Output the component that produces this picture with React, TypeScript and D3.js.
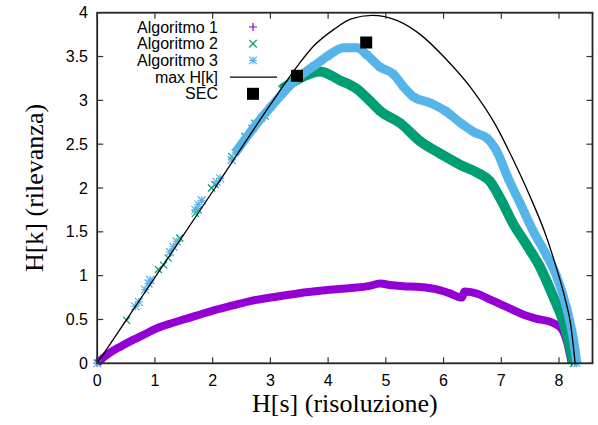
import React from "react";
import * as d3 from "d3";

const W = 598;
const H = 425;
const m = { left: 97.2, right: 5.5, top: 12.7, bottom: 61.7 };

const xTicks = [0, 1, 2, 3, 4, 5, 6, 7, 8];
const yTicks = [0, 0.5, 1, 1.5, 2, 2.5, 3, 3.5, 4];

type P = [number, number];

// Algoritmo 1 (dense band)
const algo1: P[] = [
  [0, 0], [0.1, 0.06], [0.22, 0.12], [0.4, 0.19], [0.63, 0.27], [0.85, 0.34],
  [1.0, 0.39], [1.3, 0.46], [1.55, 0.51], [1.8, 0.56], [2.05, 0.61], [2.35, 0.66],
  [2.65, 0.71], [2.9, 0.74], [3.1, 0.76], [3.5, 0.8], [3.9, 0.83], [4.4, 0.86],
  [4.7, 0.88], [4.9, 0.91], [5.1, 0.89], [5.3, 0.88], [5.6, 0.87], [5.9, 0.84],
  [6.1, 0.8], [6.32, 0.75], [6.36, 0.82], [6.6, 0.79], [6.8, 0.73], [7.0, 0.67],
  [7.2, 0.61], [7.4, 0.55], [7.6, 0.51], [7.9, 0.46], [8.05, 0.39], [8.14, 0.24],
  [8.22, 0],
];

// Algoritmo 2: scattered points along the diagonal, then a dense band
const algo2Sparse: P[] = [
  [0.51, 0.49], [1.06, 1.07], [1.15, 1.12], [1.23, 1.2], [1.43, 1.43], [1.7, 1.71],
  [1.75, 1.75], [1.98, 2.0], [2.04, 2.04], [2.33, 2.36], [2.56, 2.59], [2.68, 2.68],
  [2.73, 2.74], [2.85, 2.8], [2.91, 2.82],
];
const algo2Band: P[] = [
  [3.2, 3.13], [3.5, 3.25], [3.86, 3.33], [4.2, 3.23], [4.5, 3.13], [4.73, 2.99],
  [4.9, 2.88], [5.25, 2.74], [5.6, 2.53], [5.95, 2.39], [6.3, 2.26], [6.6, 2.17],
  [6.8, 2.08], [7.0, 1.86], [7.2, 1.6], [7.44, 1.35], [7.67, 1.1], [7.9, 0.76],
  [8.08, 0.46], [8.19, 0.19], [8.25, 0],
];

// Algoritmo 3
const algo3Sparse: P[] = [
  [0, 0], [0.66, 0.65], [0.72, 0.7], [0.83, 0.84], [0.89, 0.91], [0.92, 0.95],
  [1.26, 1.27], [1.32, 1.33], [1.38, 1.39], [1.7, 1.75], [1.75, 1.81], [1.81, 1.86],
  [2.07, 2.07], [2.13, 2.11], [2.33, 2.32],
];
const algo3Band: P[] = [
  [2.39, 2.4], [2.7, 2.68], [3.0, 2.92], [3.2, 3.07], [3.5, 3.27], [3.75, 3.39],
  [3.98, 3.5], [4.27, 3.6], [4.5, 3.6], [4.67, 3.52], [4.9, 3.38], [5.13, 3.3],
  [5.3, 3.16], [5.48, 3.04], [5.77, 2.97], [6.03, 2.88], [6.3, 2.74], [6.55, 2.63],
  [6.75, 2.57], [6.92, 2.42], [7.12, 2.11], [7.33, 1.82], [7.56, 1.5], [7.77, 1.25],
  [7.96, 0.99], [8.14, 0.61], [8.25, 0.27], [8.31, 0],
];

// max H[k]
const maxHk: P[] = [
  [0, 0], [1, 0.98], [2, 1.96], [3, 2.95], [3.5, 3.42], [3.75, 3.62], [4.1, 3.81],
  [4.4, 3.93], [4.76, 3.97], [5.2, 3.91], [5.6, 3.75], [6.0, 3.5], [6.5, 3.12],
  [6.9, 2.72], [7.2, 2.33], [7.5, 1.9], [7.75, 1.5], [7.95, 1.1], [8.1, 0.75],
  [8.2, 0.45], [8.28, 0],
];

// SEC
const sec: P[] = [[3.46, 3.28], [4.66, 3.66]];

const C1 = "#9400d3";
const C2 = "#009e73";
const C3 = "#56b4e9";

const x = d3.scaleLinear().domain([0, 8.58]).range([m.left, W - m.right]);
const y = d3.scaleLinear().domain([0, 4]).range([H - m.bottom, m.top]);

const line = d3
  .line<P>()
  .x((d) => x(d[0]))
  .y((d) => y(d[1]))
  .curve(d3.curveMonotoneX);

const sans = "'Liberation Sans', Arial, sans-serif";
const serif = "'Liberation Serif', 'Times New Roman', serif";

const Plus = ({ cx, cy, s, c }: { cx: number; cy: number; s: number; c: string }) => (
  <path d={`M${cx - s} ${cy}H${cx + s}M${cx} ${cy - s}V${cy + s}`} stroke={c} strokeWidth={1.2} />
);
const Cross = ({ cx, cy, s, c }: { cx: number; cy: number; s: number; c: string }) => (
  <path
    d={`M${cx - s} ${cy - s}L${cx + s} ${cy + s}M${cx - s} ${cy + s}L${cx + s} ${cy - s}`}
    stroke={c}
    strokeWidth={1.2}
  />
);
const Star = ({ cx, cy, s, c }: { cx: number; cy: number; s: number; c: string }) => (
  <path
    d={`M${cx - s} ${cy}H${cx + s}M${cx} ${cy - s}V${cy + s}M${cx - s} ${cy - s}L${cx + s} ${cy + s}M${cx - s} ${cy + s}L${cx + s} ${cy - s}`}
    stroke={c}
    strokeWidth={1.2}
  />
);

export default function App() {
  const x0 = m.left;
  const x1 = W - m.right;
  const y0 = H - m.bottom;
  const y1 = m.top;
  const legX = 218;
  const symX = 253;
  const rows = [32.5, 49.2, 65.9, 82.6, 99.3];

  return (
    <svg width={W} height={H} style={{ position: "absolute", left: 0, top: 0, background: "#fff" }}>
      {/* Algoritmo 1 */}
      <path d={line(algo1) ?? ""} fill="none" stroke={C1} strokeWidth={8} strokeLinejoin="round" />
      {algo1.map((d, i) => (
        <Plus key={"a1" + i} cx={x(d[0])} cy={y(d[1])} s={3.5} c={C1} />
      ))}

      {/* Algoritmo 2 */}
      <path d={line(algo2Band) ?? ""} fill="none" stroke={C2} strokeWidth={10} strokeLinejoin="round" />
      {algo2Band.map((d, i) => (
        <Cross key={"a2b" + i} cx={x(d[0])} cy={y(d[1])} s={3.5} c={C2} />
      ))}
      {algo2Sparse.map((d, i) => (
        <Cross key={"a2s" + i} cx={x(d[0])} cy={y(d[1])} s={3.5} c={C2} />
      ))}

      {/* Algoritmo 3 */}
      <path d={line(algo3Band) ?? ""} fill="none" stroke={C3} strokeWidth={9} strokeLinejoin="round" />
      {algo3Band.map((d, i) => (
        <Star key={"a3b" + i} cx={x(d[0])} cy={y(d[1])} s={3.5} c={C3} />
      ))}
      {algo3Sparse.map((d, i) => (
        <Star key={"a3s" + i} cx={x(d[0])} cy={y(d[1])} s={4} c={C3} />
      ))}

      {/* max H[k] */}
      <path d={line(maxHk) ?? ""} fill="none" stroke="#000" strokeWidth={1.3} />

      {/* SEC */}
      {sec.map((d, i) => (
        <rect key={"s" + i} x={x(d[0]) - 6} y={y(d[1]) - 6} width={12} height={12} fill="#000" />
      ))}

      {/* frame and ticks */}
      <rect x={x0} y={y1} width={x1 - x0} height={y0 - y1} fill="none" stroke="#222" strokeWidth={1.8} />
      {xTicks.map((t) => (
        <g key={"xt" + t}>
          <line x1={x(t)} x2={x(t)} y1={y0} y2={y0 - 6} stroke="#333" strokeWidth={1.2} />
          <line x1={x(t)} x2={x(t)} y1={y1} y2={y1 + 6} stroke="#333" strokeWidth={1.2} />
          <text x={x(t)} y={386} textAnchor="middle" fontFamily={sans} fontSize={16}>
            {t}
          </text>
        </g>
      ))}
      {yTicks.map((t) => (
        <g key={"yt" + t}>
          <line x1={x0} x2={x0 + 6} y1={y(t)} y2={y(t)} stroke="#333" strokeWidth={1.2} />
          <line x1={x1} x2={x1 - 6} y1={y(t)} y2={y(t)} stroke="#333" strokeWidth={1.2} />
          <text x={88} y={y(t) + 5.5} textAnchor="end" fontFamily={sans} fontSize={16}>
            {t}
          </text>
        </g>
      ))}

      {/* axis titles */}
      <text x={(x0 + x1) / 2} y={412} textAnchor="middle" fontFamily={serif} fontSize={26}>
        H[s] (risoluzione)
      </text>
      <text
        transform={`translate(43, ${(y0 + y1) / 2}) rotate(-90)`}
        textAnchor="middle"
        fontFamily={serif}
        fontSize={26}
      >
        H[k] (rilevanza)
      </text>

      {/* legend */}
      <g fontFamily={sans} fontSize={16} textAnchor="end">
        <text x={legX} y={rows[0]}>Algoritmo 1</text>
        <text x={legX} y={rows[1]}>Algoritmo 2</text>
        <text x={legX} y={rows[2]}>Algoritmo 3</text>
        <text x={legX} y={rows[3]}>max H[k]</text>
        <text x={legX} y={rows[4]}>SEC</text>
      </g>
      <Plus cx={symX} cy={rows[0] - 5.5} s={4} c={C1} />
      <Cross cx={symX} cy={rows[1] - 5.5} s={3.8} c={C2} />
      <Star cx={symX} cy={rows[2] - 5.5} s={3.8} c={C3} />
      <line x1={230} x2={277} y1={rows[3] - 5.5} y2={rows[3] - 5.5} stroke="#000" strokeWidth={1.3} />
      <rect x={symX - 6} y={rows[4] - 11.5} width={12} height={12} fill="#000" />
    </svg>
  );
}
